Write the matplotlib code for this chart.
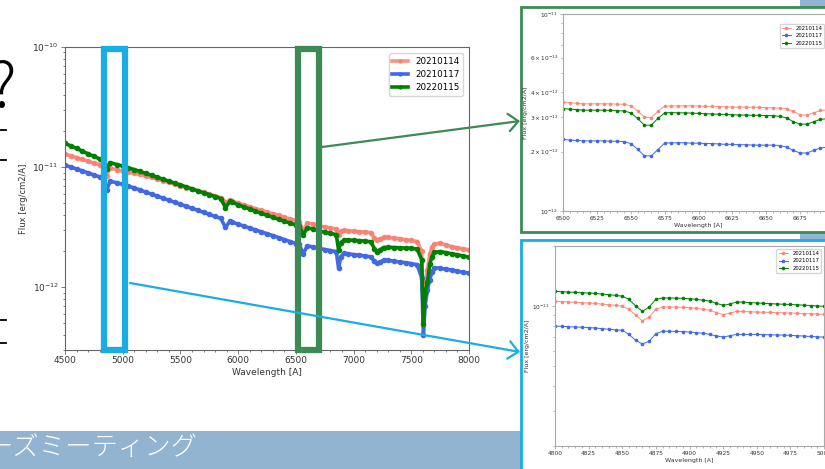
import numpy as np
import matplotlib
matplotlib.use('Agg')
import matplotlib.pyplot as plt
from matplotlib import patches, transforms, ticker
from matplotlib.lines import Line2D

W, H = 825, 469

dates = ['20210114', '20210117', '20220115']
colors = ['salmon', 'royalblue', 'green']

# full spectra, flux in 1e-12 erg/cm2/A
wl_main = [4500, 4550, 4600, 4650, 4700, 4750, 4800, 4830, 4861, 4890,
           4950, 5000, 5050, 5100, 5150, 5200, 5250, 5300, 5350, 5400,
           5450, 5500, 5550, 5600, 5650, 5700, 5750, 5800, 5850, 5890,
           5930, 5950, 6000, 6050, 6100, 6150, 6200, 6250, 6300, 6350,
           6400, 6450, 6500, 6530, 6563, 6600, 6650, 6700, 6750, 6800,
           6850, 6870, 6890, 6920, 6950, 7000, 7050, 7100, 7150, 7180,
           7200, 7230, 7260, 7300, 7350, 7400, 7450, 7500, 7550, 7590,
           7605, 7620, 7640, 7660, 7680, 7700, 7750, 7800, 7850, 7900,
           7950, 8000]
flux_0114 = [12.9, 12.4, 12.0, 11.6, 11.2, 10.8, 10.5, 10.2, 8.5, 9.85,
             9.5, 9.25, 9.1, 8.9, 8.68, 8.45, 8.2, 7.95, 7.7, 7.45,
             7.2, 6.98, 6.76, 6.55, 6.35, 6.15, 5.95, 5.75, 5.56, 5.1,
             5.3, 5.2, 5.02, 4.85, 4.68, 4.52, 4.37, 4.23, 4.10, 3.96,
             3.83, 3.70, 3.58, 3.50, 2.97, 3.41, 3.35, 3.25, 3.18, 3.12,
             3.05, 2.70, 2.92, 2.98, 2.95, 2.93, 2.90, 2.88, 2.85, 2.55,
             2.45, 2.52, 2.60, 2.60, 2.57, 2.53, 2.49, 2.45, 2.40, 2.0,
             0.61, 1.1, 1.4, 1.9, 2.15, 2.28, 2.33, 2.25, 2.18, 2.13,
             2.09, 2.05]
flux_0117 = [10.4, 10.0, 9.66, 9.3, 8.95, 8.6, 8.3, 8.1, 6.45, 7.6,
             7.42, 7.19, 6.95, 6.70, 6.45, 6.19, 5.96, 5.73, 5.51, 5.30,
             5.10, 4.90, 4.72, 4.54, 4.37, 4.20, 4.04, 3.88, 3.74, 3.15,
             3.55, 3.48, 3.35, 3.23, 3.11, 3.00, 2.89, 2.79, 2.69, 2.59,
             2.49, 2.40, 2.31, 2.27, 1.90, 2.21, 2.16, 2.11, 2.06, 2.02,
             1.98, 1.44, 1.80, 1.92, 1.90, 1.87, 1.85, 1.82, 1.79, 1.64,
             1.58, 1.62, 1.68, 1.67, 1.65, 1.62, 1.60, 1.57, 1.54, 1.20,
             0.40, 0.70, 0.95, 1.15, 1.35, 1.45, 1.44, 1.41, 1.39, 1.36,
             1.33, 1.31]
flux_0115 = [15.8, 15.0, 14.3, 13.6, 12.9, 12.3, 11.7, 11.4, 9.6, 10.9,
             10.5, 10.2, 9.85, 9.53, 9.2, 8.85, 8.55, 8.22, 7.93, 7.64,
             7.37, 7.10, 6.84, 6.59, 6.35, 6.12, 5.90, 5.69, 5.47, 4.6,
             5.2, 5.10, 4.85, 4.66, 4.48, 4.30, 4.13, 3.97, 3.82, 3.68,
             3.55, 3.42, 3.30, 3.25, 2.72, 3.13, 3.05, 2.94, 2.87, 2.81,
             2.74, 2.05, 2.35, 2.48, 2.47, 2.46, 2.44, 2.42, 2.39, 2.10,
             1.98, 2.05, 2.14, 2.15, 2.14, 2.13, 2.12, 2.11, 2.08, 1.70,
             0.49, 0.90, 1.10, 1.55, 1.80, 1.95, 1.98, 1.94, 1.90, 1.86,
             1.82, 1.78]

# H-alpha window, 1e-12
wl_ha = np.arange(6500, 6701, 5)
ha_0114 = [3.58, 3.55, 3.52, 3.50, 3.50, 3.50, 3.50, 3.50, 3.49, 3.48,
           3.42, 3.22, 3.00, 2.97, 3.20, 3.40, 3.42, 3.41, 3.42, 3.42,
           3.41, 3.40, 3.40, 3.39, 3.38, 3.37, 3.37, 3.37, 3.36, 3.36,
           3.35, 3.34, 3.33, 3.31, 3.20, 3.08, 3.07, 3.15, 3.24, 3.26, 3.25]
ha_0117 = [2.31, 2.29, 2.28, 2.27, 2.27, 2.27, 2.27, 2.26, 2.26, 2.25,
           2.20, 2.06, 1.91, 1.90, 2.05, 2.21, 2.22, 2.22, 2.22, 2.21,
           2.21, 2.20, 2.20, 2.19, 2.18, 2.18, 2.17, 2.17, 2.16, 2.16,
           2.16, 2.16, 2.15, 2.11, 2.03, 1.97, 1.97, 2.03, 2.09, 2.11, 2.11]
ha_0115 = [3.31, 3.29, 3.27, 3.25, 3.25, 3.25, 3.25, 3.24, 3.23, 3.22,
           3.15, 2.95, 2.73, 2.72, 2.95, 3.15, 3.16, 3.15, 3.15, 3.14,
           3.13, 3.12, 3.11, 3.10, 3.09, 3.08, 3.07, 3.07, 3.06, 3.06,
           3.05, 3.05, 3.02, 2.97, 2.84, 2.76, 2.76, 2.84, 2.92, 2.94, 2.94]

# H-beta window, 1e-11
wl_hb = np.arange(4800, 5001, 5)
hb_0114 = [1.058, 1.054, 1.050, 1.046, 1.042, 1.038, 1.032, 1.025, 1.018, 1.010,
           1.002, 0.965, 0.901, 0.845, 0.883, 0.965, 0.991, 0.992, 0.990, 0.987,
           0.984, 0.976, 0.966, 0.954, 0.930, 0.908, 0.922, 0.943, 0.941, 0.938,
           0.935, 0.933, 0.931, 0.929, 0.927, 0.925, 0.922, 0.919, 0.916, 0.913, 0.911]
hb_0117 = [0.796, 0.793, 0.790, 0.787, 0.785, 0.782, 0.778, 0.772, 0.767, 0.762,
           0.757, 0.723, 0.675, 0.647, 0.668, 0.729, 0.749, 0.750, 0.748, 0.746,
           0.743, 0.738, 0.732, 0.723, 0.710, 0.701, 0.712, 0.723, 0.723, 0.723,
           0.723, 0.721, 0.720, 0.718, 0.717, 0.715, 0.712, 0.709, 0.706, 0.703, 0.701]
hb_0115 = [1.187, 1.182, 1.177, 1.172, 1.168, 1.164, 1.158, 1.150, 1.142, 1.133,
           1.122, 1.082, 1.002, 0.943, 0.991, 1.082, 1.099, 1.100, 1.098, 1.095,
           1.090, 1.082, 1.072, 1.061, 1.035, 1.010, 1.025, 1.050, 1.048, 1.043,
           1.038, 1.034, 1.030, 1.026, 1.023, 1.020, 1.016, 1.012, 1.008, 1.003, 0.999]

# highlighted wavelength windows on the full spectrum
window_hb = (4840, 5018)
window_ha = (6521, 6700)

CYAN = '#1aade3'
DKGREEN = '#3c8a55'
BANNER = '#93b4d0'
TXT = '#333333'


def px(x, y):
    """pixel position (from top-left) -> figure fraction"""
    return x / W, 1 - y / H


def box(x0, y0, x1, y1):
    return [x0 / W, 1 - y1 / H, (x1 - x0) / W, (y1 - y0) / H]


def draw_spectra(ax, wl, series, scale, ms, lw):
    for d, c, f in zip(dates, colors, series):
        ax.plot(wl, np.array(f) * scale, '.-', color=c, ms=ms, lw=lw, label=d,
                alpha=0.85 if c == 'salmon' else 1.0)


def style_axes(ax, spine, labelsize, ticklen):
    for s in ax.spines.values():
        s.set_color(spine)
        s.set_linewidth(0.8)
    ax.tick_params(which='both', colors=spine, labelcolor=TXT, labelsize=labelsize,
                   width=0.6, pad=1.5)
    ax.tick_params(which='major', length=ticklen)
    ax.tick_params(which='minor', length=ticklen * 0.6)


fig = plt.figure(figsize=(W / 100, H / 100), dpi=100)
fig.patch.set_facecolor('white')

# slide background pieces
fig.add_artist(patches.Rectangle(px(0, 469), 800 / W, 38 / H, transform=fig.transFigure,
                                 color=BANNER, lw=0, zorder=-5))
fig.add_artist(patches.Rectangle(px(800, 469), 25 / W, 1, transform=fig.transFigure,
                                 color=BANNER, lw=0, zorder=-5))
fig.text(*px(-14, 447), 'ーズミーティング', color='white', fontsize=19,
         family=['Noto Sans CJK JP', 'DejaVu Sans'], fontweight='light',
         ha='left', va='center')
fig.text(*px(2, 107), '?', color='black', fontsize=44,
         family=['Noto Sans CJK JP', 'DejaVu Sans'], fontweight='light',
         ha='center', va='baseline')
for yy in (130, 160, 320, 343):
    fig.add_artist(Line2D([0, 6 / W], [1 - yy / H] * 2, color='black', lw=1.3,
                          transform=fig.transFigure))

# full spectrum
ax = fig.add_axes(box(65, 47, 469, 350))
draw_spectra(ax, wl_main, [flux_0114, flux_0117, flux_0115], 1e-12, ms=6, lw=2.6)
ax.set_yscale('log')
ax.set_xlim(4500, 8000)
ax.set_ylim(3e-13, 1e-10)
ax.xaxis.set_major_locator(ticker.MultipleLocator(500))
ax.xaxis.set_minor_locator(ticker.MultipleLocator(100))
style_axes(ax, '#666666', 6.5, 3)
ax.set_xlabel('Wavelength [A]', fontsize=6.5, color=TXT, labelpad=2)
ax.set_ylabel('Flux [erg/cm2/A]', fontsize=6, color=TXT, labelpad=3)
ax.legend(loc='upper right', fontsize=6.3, handlelength=1.8, markerscale=0.7,
          borderaxespad=0.7)

trans = transforms.blended_transform_factory(ax.transData, ax.transAxes)
for (x0, x1), c in [(window_hb, CYAN), (window_ha, DKGREEN)]:
    ax.add_patch(patches.Rectangle((x0, 0), x1 - x0, 0.995, transform=trans, fill=False,
                                   edgecolor=c, lw=4.5, clip_on=False, zorder=6))

# zoom-in frames
fig.add_artist(patches.Rectangle(px(521, 232), 320 / W, 225 / H, transform=fig.transFigure,
                                 facecolor='white', edgecolor=DKGREEN, lw=2, zorder=-2))
fig.add_artist(patches.Rectangle(px(521, 480), 320 / W, 240 / H, transform=fig.transFigure,
                                 facecolor='white', edgecolor=CYAN, lw=2, zorder=-2))

for start, end, c in [((322, 147), (520, 121), DKGREEN), ((130, 283), (520, 352), CYAN)]:
    fig.add_artist(patches.FancyArrowPatch(px(*start), px(*end), transform=fig.transFigure,
                                           arrowstyle='->,head_length=0.5,head_width=0.45',
                                           mutation_scale=14, color=c, lw=1.6,
                                           shrinkA=0, shrinkB=0, zorder=6))

# H-alpha zoom
ax1 = fig.add_axes(box(563, 14, 834, 211))
draw_spectra(ax1, wl_ha, [ha_0114, ha_0117, ha_0115], 1e-12, ms=3.2, lw=0.7)
ax1.set_yscale('log')
ax1.set_xlim(6500, 6700)
ax1.set_ylim(1e-12, 1e-11)
ax1.xaxis.set_major_locator(ticker.MultipleLocator(25))
ax1.xaxis.set_minor_locator(ticker.MultipleLocator(5))
style_axes(ax1, '#a8a8a8', 4.2, 2)
ax1.set_xlabel('Wavelength [A]', fontsize=4.5, color=TXT, labelpad=1.5)
ax1.set_ylabel('Flux [erg/cm2/A]', fontsize=4.5, color=TXT, labelpad=1.5)
ax1.legend(loc='upper right', fontsize=3.8, handlelength=1.8, borderaxespad=1.8)

# H-beta zoom
ax2 = fig.add_axes(box(555, 246, 824, 446))
draw_spectra(ax2, wl_hb, [hb_0114, hb_0117, hb_0115], 1e-11, ms=3.2, lw=0.7)
ax2.set_yscale('log')
ax2.set_xlim(4800, 5000)
ax2.set_ylim(2e-12, 2e-11)
ax2.yaxis.set_minor_formatter(ticker.NullFormatter())
ax2.xaxis.set_major_locator(ticker.MultipleLocator(25))
ax2.xaxis.set_minor_locator(ticker.MultipleLocator(5))
style_axes(ax2, '#a8a8a8', 4.2, 2)
ax2.set_xlabel('Wavelength [A]', fontsize=4.5, color=TXT, labelpad=1.5)
ax2.set_ylabel('Flux [erg/cm2/A]', fontsize=4.5, color=TXT, labelpad=1.5)
ax2.legend(loc='upper right', fontsize=3.8, handlelength=1.8)

fig.savefig('out.png', dpi=100)
